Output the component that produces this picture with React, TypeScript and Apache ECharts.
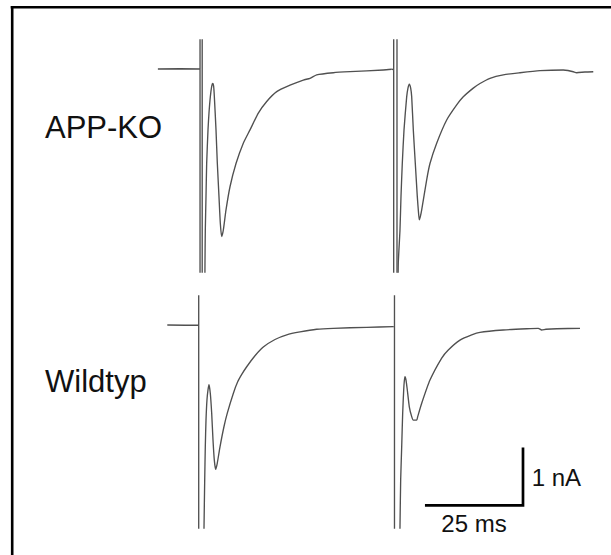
import React, { useEffect, useRef } from "react";
import * as echarts from "echarts";

// Time in ms (0 = first stimulus), current in nA relative to the holding baseline.
// Stimulus artefacts run off the panel; they are given as values beyond the
// y range and clipped at the panel edges.
const HI = 1.5;
const LO = -5;

// Shared axis ranges for both panels
const TIME_MIN = -12;
const TIME_MAX = 103;
const CURRENT_MIN = -3.5;
const CURRENT_MAX = 0.5;

// Scale bar
const SCALE_MS = 25;
const SCALE_NA = 1;
const SCALE_CORNER: [number, number] = [82.6, -3.11];

const panelLabels = ["APP-KO", "Wildtyp"];

// APP-KO: paired-pulse EPSCs
const appKoBaseline: [number, number][] = [
  [-10.5, 0], [-4.9, 0.005], [0.25, 0],
];
const appKoStim1: [number, number][] = [
  [0.25, HI], [0.25, LO], [0.8, LO], [0.8, HI], [0.8, LO], [1.34, -4.05],
];
const appKoPulse1: [number, number][] = [
  [1.34, -4.05], [1.46, -3.81], [1.51, -3.35], [1.59, -2.78], [1.77, -2.2],
  [1.94, -1.63], [2.28, -1.05], [2.53, -0.76], [2.87, -0.48], [3.22, -0.3],
  [3.47, -0.25], [3.72, -0.3], [3.9, -0.48], [4.32, -1.05], [4.66, -1.63],
  [5.08, -2.2], [5.42, -2.66], [5.77, -2.89], [6.18, -2.78], [6.87, -2.43],
  [7.89, -2.03], [9.42, -1.63], [11.28, -1.28], [12.99, -1.05], [15.11, -0.76],
  [17.25, -0.56], [19.8, -0.39], [23.19, -0.28], [26.58, -0.19], [28.29, -0.16],
  [29.99, -0.1], [34.24, -0.064], [38.49, -0.046], [46.99, -0.017], [49.12, -0.005],
];
const appKoStim2: [number, number][] = [
  [49.12, -0.005], [49.63, -0.01], [49.63, HI], [49.63, LO], [50.47, LO], [50.47, HI],
  [50.47, LO], [50.72, -3.98],
];
const appKoPulse2: [number, number][] = [
  [50.72, -3.98], [50.8, -3.35], [51.23, -2.78], [51.49, -2.2], [51.82, -1.63],
  [52.26, -1.05], [52.94, -0.48], [53.27, -0.33], [53.61, -0.26], [53.96, -0.33],
  [54.22, -0.48], [54.63, -1.05], [55.14, -1.63], [55.65, -2.2], [55.95, -2.47],
  [56.16, -2.6], [56.41, -2.55], [56.77, -2.43], [58.04, -1.91], [58.88, -1.63],
  [60.59, -1.28], [63.14, -0.88], [65.69, -0.62], [67.37, -0.48], [69.92, -0.33],
  [71.63, -0.25], [74.18, -0.16], [77.57, -0.1], [81.83, -0.064], [86.93, -0.029],
  [92.87, -0.017], [94.07, -0.026], [95.42, -0.047], [96.29, -0.064], [98.4, -0.052],
  [100.52, -0.047],
];

// Wildtyp: paired-pulse EPSCs
const wtBaseline: [number, number][] = [
  [-8.1, 0], [-3.58, -0.005], [-0.09, 0],
];
const wtStim1: [number, number][] = [
  [-0.09, HI], [-0.09, LO], [1.21, -4.05],
];
const wtPulse1: [number, number][] = [
  [1.21, -4.05], [1.26, -3.51], [1.44, -2.67], [1.59, -2.1], [1.77, -1.64],
  [2.02, -1.29], [2.28, -1.12], [2.53, -1.03], [2.87, -1.18], [3.22, -1.52],
  [3.55, -1.98], [3.89, -2.33], [4.24, -2.49], [4.65, -2.38], [5.34, -2.1],
  [6.36, -1.75], [7.2, -1.52], [8.73, -1.18], [9.85, -0.98], [11.0, -0.84],
  [12.15, -0.72], [14.26, -0.53], [16.38, -0.38], [19.36, -0.25], [22.35, -0.17],
  [25.74, -0.12], [29.99, -0.074], [34.23, -0.057], [42.74, -0.04], [49.53, -0.029],
];
const wtStim2: [number, number][] = [
  [49.53, -0.029], [49.83, -0.03], [49.83, HI], [49.83, LO], [51.18, -4.05],
];
const wtPulse2: [number, number][] = [
  [51.18, -4.05], [51.23, -3.51], [51.41, -2.67], [51.67, -2.1], [51.92, -1.52],
  [52.18, -1.12], [52.33, -0.97], [52.51, -0.89], [52.77, -0.95], [53.1, -1.12],
  [53.61, -1.41], [54.22, -1.58], [54.63, -1.64], [55.5, -1.64], [55.75, -1.58],
  [56.77, -1.35], [58.88, -0.95], [61.87, -0.57], [63.55, -0.43], [66.53, -0.26],
  [69.52, -0.17], [71.63, -0.126], [77.57, -0.086], [83.54, -0.064], [86.5, -0.057],
  [87.36, -0.086], [88.46, -0.074], [91.19, -0.064], [97.13, -0.057],
];

const TRACE_COLOR = "#505050";
const FONT = "'Liberation Sans', Arial, Helvetica, sans-serif";

function traceSeries(name: string, idx: number, data: [number, number][], smooth: number | boolean) {
  return {
    name,
    type: "line",
    xAxisIndex: idx,
    yAxisIndex: idx,
    data,
    symbol: "none",
    showSymbol: false,
    smooth,
    clip: true,
    silent: true,
    lineStyle: { color: TRACE_COLOR, width: 1.35, join: "round" },
  };
}

function label(text: string, x: number, y: number, size: number, align = "left") {
  return {
    type: "text",
    x,
    y,
    silent: true,
    style: {
      text,
      fill: "#111111",
      fontSize: size,
      fontFamily: FONT,
      align,
      verticalAlign: "middle",
      textAlign: align,
      textVerticalAlign: "middle",
    },
  };
}

export default function App() {
  const ref = useRef<HTMLDivElement>(null);

  useEffect(() => {
    if (!ref.current) return;
    const chart = echarts.init(ref.current, undefined, { renderer: "svg" });

    const [cx, cy] = SCALE_CORNER;
    const scaleBar: [number, number][] = [
      [cx - SCALE_MS, cy],
      [cx, cy],
      [cx, cy + SCALE_NA],
    ];

    const axisX = (gridIndex: number) => ({
      type: "value",
      gridIndex,
      min: TIME_MIN,
      max: TIME_MAX,
      show: false,
    });
    const axisY = (gridIndex: number) => ({
      type: "value",
      gridIndex,
      min: CURRENT_MIN,
      max: CURRENT_MAX,
      show: false,
    });

    chart.setOption({
      animation: false,
      backgroundColor: "#ffffff",
      grid: [
        { left: 152, top: 40, width: 451, height: 232 },
        { left: 152, top: 296, width: 451, height: 232 },
      ],
      xAxis: [axisX(0), axisX(1)],
      yAxis: [axisY(0), axisY(1)],
      series: [
        traceSeries(panelLabels[0], 0, [...appKoBaseline, ...appKoStim1], false),
        traceSeries(panelLabels[0], 0, appKoPulse1, 0.2),
        traceSeries(panelLabels[0], 0, appKoStim2, false),
        traceSeries(panelLabels[0], 0, appKoPulse2, 0.2),
        traceSeries(panelLabels[1], 1, [...wtBaseline, ...wtStim1], false),
        traceSeries(panelLabels[1], 1, wtPulse1, 0.2),
        traceSeries(panelLabels[1], 1, wtStim2, false),
        traceSeries(panelLabels[1], 1, wtPulse2, 0.2),
        {
          name: "scale",
          type: "line",
          xAxisIndex: 1,
          yAxisIndex: 1,
          data: scaleBar,
          symbol: "none",
          silent: true,
          clip: false,
          lineStyle: { color: "#000000", width: 2.7, cap: "butt", join: "miter" },
        },
      ],
      graphic: [
        {
          type: "line",
          silent: true,
          shape: { x1: 10.7, y1: 7.2, x2: 611, y2: 7.2 },
          style: { stroke: "#000000", lineWidth: 2.6 },
        },
        {
          type: "line",
          silent: true,
          shape: { x1: 12.2, y1: 5.9, x2: 12.2, y2: 555 },
          style: { stroke: "#000000", lineWidth: 2.6 },
        },
        label(panelLabels[0], 45, 127.5, 31),
        label(panelLabels[1], 45, 381.7, 31),
        label(`${SCALE_NA} nA`, 531.7, 477.5, 24),
        label(`${SCALE_MS} ms`, 474, 523.3, 24, "center"),
      ],
    });

    return () => chart.dispose();
  }, []);

  return (
    <div
      ref={ref}
      style={{ position: "absolute", left: 0, top: 0, width: 611, height: 555, background: "#fff" }}
    />
  );
}
